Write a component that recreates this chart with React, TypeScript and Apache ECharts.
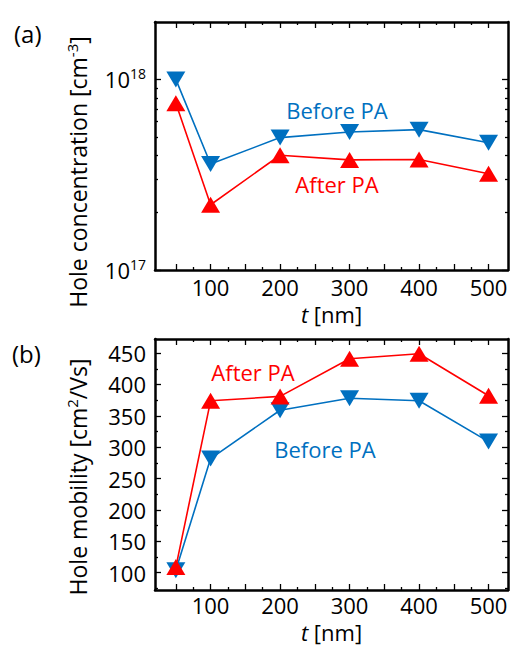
import React, { useEffect, useRef } from 'react';
import * as echarts from 'echarts';

// ---- data ----
const thickness = [50, 100, 200, 300, 400, 500];
const concBefore = [1.0e18, 3.6e17, 4.95e17, 5.3e17, 5.45e17, 4.65e17];
const concAfter = [7.5e17, 2.2e17, 4.0e17, 3.78e17, 3.8e17, 3.2e17];
const mobBefore = [104, 282, 359, 378, 374, 309];
const mobAfter = [109, 374, 381, 441, 449, 382];

const xLabelValues = [100, 200, 300, 400, 500];
const xMajorTicks = [50, 100, 150, 200, 250, 300, 350, 400, 450, 500];
const xMinorTicks = [75, 125, 175, 225, 275, 325, 375, 425, 475];
const concLabelValues = [1e17, 1e18];
const concMinorTicks = [2e17, 3e17, 4e17, 5e17, 6e17, 7e17, 8e17, 9e17];
const mobLabelValues = [100, 150, 200, 250, 300, 350, 400, 450];
const mobMinorTicks = [75, 125, 175, 225, 275, 325, 375, 425];

const FONT = '"Open Sans", sans-serif';
const BLUE = '#0070C0';
const RED = '#FF0000';
const X_MIN = 20;
const X_MAX = 528;

function makeXAxes(gridIndex: number, labelMargin: number, nameGap: number) {
  const common = {
    type: 'value',
    gridIndex,
    min: X_MIN,
    max: X_MAX,
    splitLine: { show: false },
  };
  const axes: any[] = [];
  (['bottom', 'top'] as const).forEach((pos) => {
    axes.push({
      ...common,
      position: pos,
      axisLine: { show: true, onZero: false, lineStyle: { color: '#000', width: 2.5 } },
      axisTick: { show: true, inside: true, length: 6, customValues: xMajorTicks, lineStyle: { color: '#000', width: 1.3 } },
      axisLabel: pos === 'bottom'
        ? { show: true, customValues: xLabelValues, margin: labelMargin, color: '#000', fontSize: 22, lineHeight: 20, fontFamily: FONT }
        : { show: false },
      ...(pos === 'bottom'
        ? {
            name: '{i|t} [nm]',
            nameLocation: 'middle',
            nameGap,
            nameTextStyle: {
              color: '#000', fontSize: 22, lineHeight: 20, fontFamily: FONT,
              rich: { i: { fontStyle: 'italic', fontSize: 22, lineHeight: 20, fontFamily: FONT, color: '#000' } },
            },
          }
        : {}),
    });
    axes.push({
      ...common,
      position: pos,
      axisLine: { show: false, onZero: false },
      axisTick: { show: true, inside: true, length: 3, customValues: xMinorTicks, lineStyle: { color: '#000', width: 1.3 } },
      axisLabel: { show: false },
    });
  });
  return axes;
}

function makeYAxes(gridIndex: number, base: any, labelValues: number[], majorTicks: number[], minorTicks: number[], labelFmt: any, rich: any) {
  const axes: any[] = [];
  (['left', 'right'] as const).forEach((pos) => {
    axes.push({
      ...base,
      gridIndex,
      position: pos,
      splitLine: { show: false },
      axisLine: { show: true, onZero: false, lineStyle: { color: '#000', width: 2.5 } },
      axisTick: { show: true, inside: true, length: 6, customValues: majorTicks, lineStyle: { color: '#000', width: 1.3 } },
      axisLabel: pos === 'left'
        ? { show: true, customValues: labelValues, margin: 9, color: '#000', fontSize: 22, fontFamily: FONT, formatter: labelFmt, rich }
        : { show: false },
    });
    axes.push({
      ...base,
      gridIndex,
      position: pos,
      splitLine: { show: false },
      axisLine: { show: false, onZero: false },
      axisTick: { show: true, inside: true, length: 3, customValues: minorTicks, lineStyle: { color: '#000', width: 1.3 } },
      axisLabel: { show: false },
    });
  });
  return axes;
}

const pairs = (ys: number[]) => thickness.map((x, i) => [x, ys[i]]);

const lineSeries = (name: string, data: number[], color: string, up: boolean, xi: number, yi: number) => ({
  name,
  type: 'line',
  xAxisIndex: xi,
  yAxisIndex: yi,
  data: pairs(data),
  symbol: 'triangle',
  symbolRotate: up ? 0 : 180,
  symbolSize: [19, 16],
  showSymbol: true,
  lineStyle: { color, width: 1.6 },
  itemStyle: { color },
  z: up ? 3 : 2,
});

export default function App() {
  const ref = useRef<HTMLDivElement>(null);
  useEffect(() => {
    if (!ref.current) return;
    const chart = echarts.init(ref.current, null, { renderer: 'svg' });
    const supRich = {
      b: { fontSize: 22, fontFamily: FONT, color: '#000', lineHeight: 26 },
      s: { fontSize: 14, fontFamily: FONT, color: '#000', verticalAlign: 'top', lineHeight: 14 },
    };
    const concFmt = (v: number) => '{b|10}{s|' + Math.round(Math.log10(v)) + '}';
    const titleRich = {
      a: { fontSize: 23, fontFamily: FONT, fill: '#000', color: '#000', lineHeight: 28 },
      s: { fontSize: 15, fontFamily: FONT, fill: '#000', color: '#000', verticalAlign: 'top', lineHeight: 15 },
    };
    const option: any = {
      animation: false,
      backgroundColor: '#fff',
      grid: [
        { left: 155, top: 22, right: 4, height: 248, containLabel: false, outerBoundsMode: 'none' },
        { left: 155, top: 339, right: 4, height: 251, containLabel: false, outerBoundsMode: 'none' },
      ],
      xAxis: [...makeXAxes(0, 7, 34), ...makeXAxes(1, 5, 32)],
      yAxis: [
        ...makeYAxes(0, { type: 'log', logBase: 10, min: 1e17, max: 2e18 }, concLabelValues, concLabelValues, concMinorTicks, concFmt, supRich),
        ...makeYAxes(1, { type: 'value', min: 72.5, max: 472.5 }, mobLabelValues, mobLabelValues, mobMinorTicks, (v: number) => String(v), undefined),
      ],
      series: [
        lineSeries('Before PA', concBefore, BLUE, false, 0, 0),
        lineSeries('After PA', concAfter, RED, true, 0, 0),
        lineSeries('Before PA', mobBefore, BLUE, false, 4, 4),
        lineSeries('After PA', mobAfter, RED, true, 4, 4),
      ],
      graphic: [
        { type: 'text', x: 14, y: 33, style: { text: '(a)', fontSize: 24, fontFamily: FONT, fill: '#000', verticalAlign: 'middle' } },
        { type: 'text', x: 12, y: 353, style: { text: '(b)', fontSize: 24, fontFamily: FONT, fill: '#000', verticalAlign: 'middle' } },
        {
          type: 'text', x: 78, y: 172, rotation: Math.PI / 2,
          style: { text: '{a|Hole concentration [cm}{s|-3}{a|]}', rich: titleRich, align: 'center', verticalAlign: 'middle', fill: '#000' },
        },
        {
          type: 'text', x: 78, y: 477, rotation: Math.PI / 2,
          style: { text: '{a|Hole mobility [cm}{s|2}{a|/Vs]}', rich: titleRich, align: 'center', verticalAlign: 'middle', fill: '#000' },
        },
        { type: 'text', x: 337, y: 110, style: { text: 'Before PA', fontSize: 22, fontFamily: FONT, fill: BLUE, align: 'center', verticalAlign: 'middle' } },
        { type: 'text', x: 337, y: 184, style: { text: 'After PA', fontSize: 22, fontFamily: FONT, fill: RED, align: 'center', verticalAlign: 'middle' } },
        { type: 'text', x: 253, y: 372, style: { text: 'After PA', fontSize: 22, fontFamily: FONT, fill: RED, align: 'center', verticalAlign: 'middle' } },
        { type: 'text', x: 325, y: 449, style: { text: 'Before PA', fontSize: 22, fontFamily: FONT, fill: BLUE, align: 'center', verticalAlign: 'middle' } },
      ],
    };
    chart.setOption(option);
    return () => chart.dispose();
  }, []);
  return <div ref={ref} style={{ position: 'fixed', left: 0, top: 0, width: 512, height: 650 }} />;
}
